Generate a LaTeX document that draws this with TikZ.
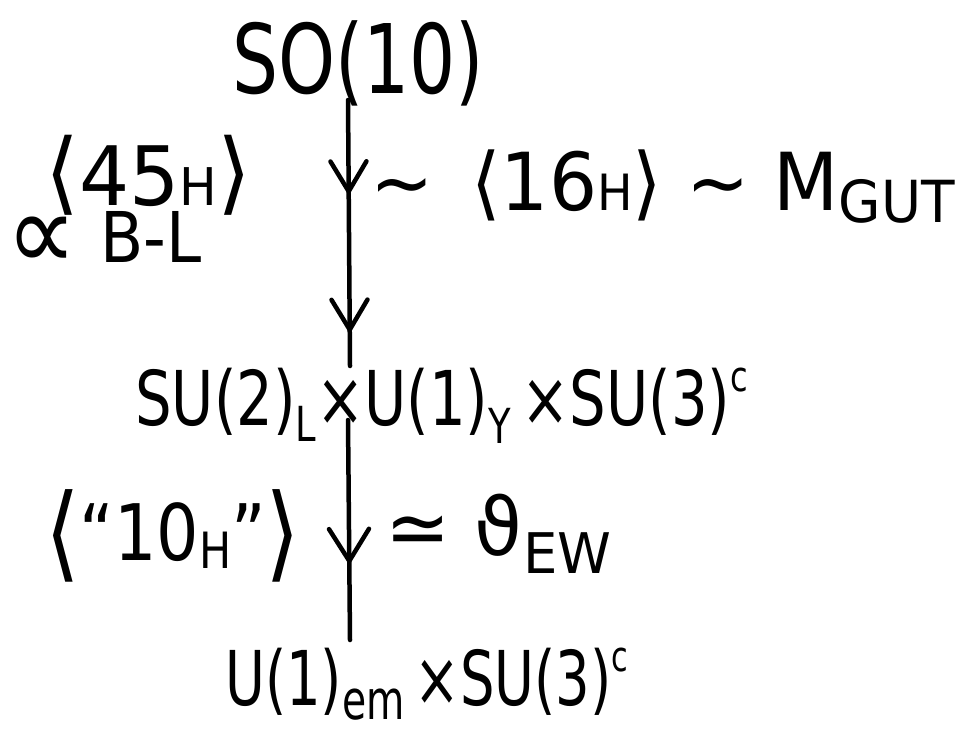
\documentclass[tikz,border=0pt]{standalone}
\usepackage{fontspec}
\setmainfont{DejaVu Sans Condensed}
\usetikzlibrary{arrows.meta,decorations.markings}
% small lowered/raised letters (offset, size, text)
\newcommand\lowtxt[3]{\raisebox{#1}{\fontsize{#2}{#2}\selectfont #3}}
\newcommand\hwsize[1]{\fontsize{#1}{#1}\selectfont}
\tikzset{
  lbl/.style={inner sep=0pt, anchor=base west},
  flow/.style={line width=4.5pt, line cap=round,
    postaction={decorate},
    decoration={markings,
      mark=at position #1 with {\arrow{Straight Barb[length=32pt,width=40pt,line width=4.5pt,line cap=round]}}}},
  flow2/.style={line width=4.5pt, line cap=round,
    postaction={decorate},
    decoration={markings,
      mark=at position 0.36 with {\arrow{Straight Barb[length=30pt,width=36pt,line width=4.5pt,line cap=round]}},
      mark=at position 0.88 with {\arrow{Straight Barb[length=30pt,width=36pt,line width=4.5pt,line cap=round]}}}}
}
\begin{document}
\begin{tikzpicture}[x=1pt,y=-1pt]
\useasboundingbox (0,0) rectangle (969,737);
\fill[white] (0,0) rectangle (969,737);

% groups at each stage
\node[lbl] (so) at (232,93) {\hwsize{96}\scalebox{0.84}[1]{SO(10)}};
\node[lbl] (lr) at (135,425) {\hwsize{72}\scalebox{0.89}[1.05]{SU(2)\lowtxt{-16pt}{46}{L}×U(1)\lowtxt{-18pt}{46}{Y}\,×SU(3)\lowtxt{32pt}{40}{c}}};
\node[lbl] (em) at (225,705) {\hwsize{72}\scalebox{0.84}[1.05]{U(1)\lowtxt{-14pt}{52}{em}\,×SU(3)\lowtxt{32pt}{40}{c}}};

% breaking scales
\node[lbl] (v45) at (45,205) {\hwsize{82}\scalebox{1.07}[1]{\lowtxt{2pt}{90}{⟨}45\lowtxt{0pt}{52}{H}\lowtxt{2pt}{90}{⟩}}};
\node[lbl] (bl) at (6,262) {\hwsize{70}\lowtxt{-8pt}{110}{∝}\,\,B-L};
\node[lbl] (v16) at (370,210) {\hwsize{80}\scalebox{1.05}[1]{∼ \,⟨16\lowtxt{0pt}{50}{H}⟩ ∼ M\lowtxt{-12pt}{58}{GUT}}};
\node[lbl] (v10) at (45,560) {\hwsize{78}\scalebox{0.95}[1]{\lowtxt{-8pt}{104}{⟨}“10\lowtxt{-8pt}{50}{H}”\lowtxt{-8pt}{104}{⟩}}};
\node[lbl] (vew) at (385,555) {\hwsize{80}\scalebox{1.08}[1]{≃ ϑ\lowtxt{-18pt}{56}{EW}}};

% breaking chain
\coordinate (a1) at (348,100);
\coordinate (a2) at (350,366);
\coordinate (b1) at (348,420);
\coordinate (b2) at (350,640);
\draw[flow2] (a1) -- (a2);
\draw[flow=0.66] (b1) -- (b2);
\end{tikzpicture}
\end{document}
